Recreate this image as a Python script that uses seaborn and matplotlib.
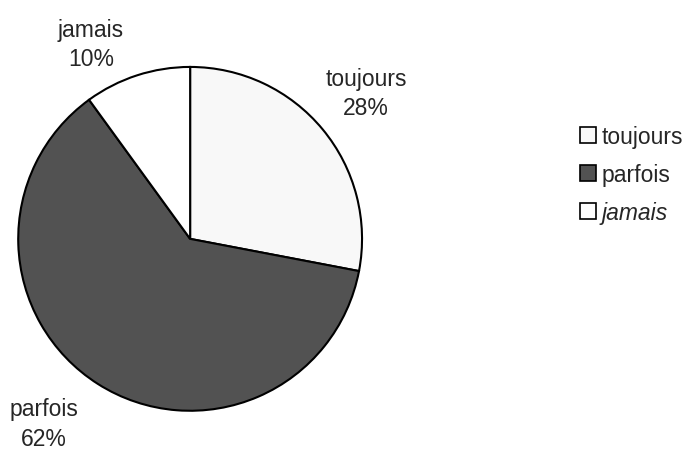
import numpy as np
import matplotlib
matplotlib.use('Agg')
import matplotlib.pyplot as plt
import seaborn as sns

# Values
categories = ['toujours', 'parfois', 'jamais']
shares = [28, 62, 10]
colors = ['#f8f8f8', '#525252', '#ffffff']

sns.set_style('white')
plt.rcParams['font.family'] = ['Liberation Sans', 'DejaVu Sans']

fig = plt.figure(figsize=(6.99, 4.56), dpi=100)
ax = fig.add_axes([0.026, 0.097, 0.492, 0.754])

wedges, _ = ax.pie(shares, colors=colors, startangle=90, counterclock=False,
                   wedgeprops=dict(edgecolor='black', linewidth=1.5))

# labels outside each slice, nudged a little like the original
shift = [0, -6, 9]
dist = [1.33, 1.37, 1.27]
for w, c, v, s, d in zip(wedges, categories, shares, shift, dist):
    ang = np.deg2rad((w.theta1 + w.theta2) / 2 + s)
    ax.text(d * np.cos(ang), d * np.sin(ang), f'{c}\n{v}%', ha='center', va='center',
            fontsize=16.5, linespacing=1.35)

ax.set_xlim(-1, 1)
ax.set_ylim(-1, 1)
ax.set_aspect('equal')

leg = fig.legend(wedges, categories, loc='upper left', bbox_to_anchor=(0.80, 0.768),
                 frameon=False, fontsize=16.5, handlelength=0.7, handleheight=0.7,
                 handletextpad=0.25, labelspacing=0.65)
for h in leg.legend_handles:
    h.set_linewidth(1.2)
leg.get_texts()[2].set_style('italic')

fig.savefig('out.png', dpi=100)
